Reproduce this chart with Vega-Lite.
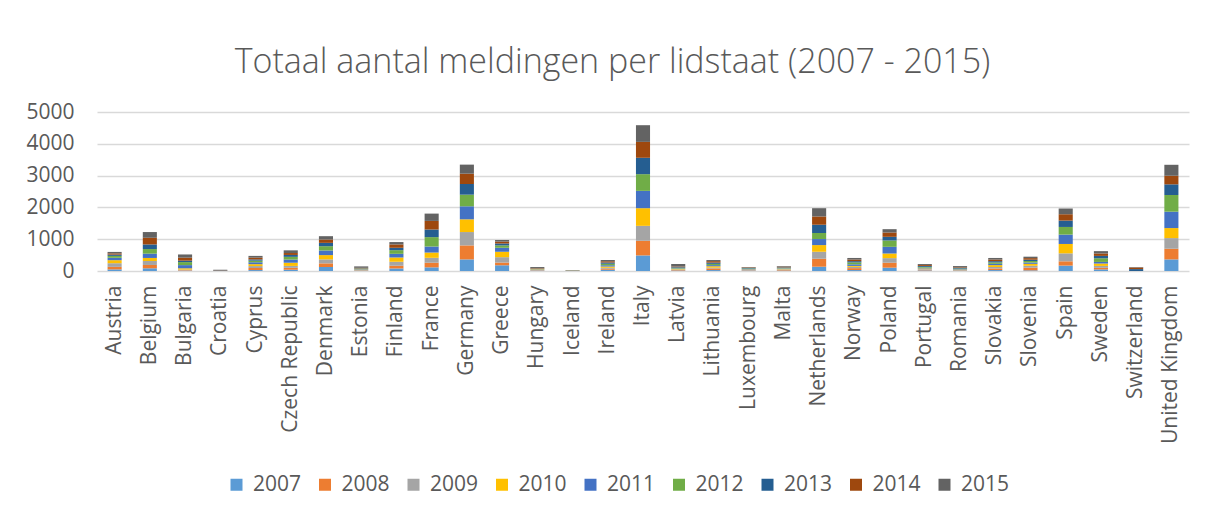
{
  "$schema": "https://vega.github.io/schema/vega-lite/v6.json",
  "width": 1092,
  "height": 159,
  "autosize": {"type": "none"},
  "padding": {"left": 97, "top": 112, "right": 19, "bottom": 247},
  "background": "#ffffff",
  "title": {
    "text": "Totaal aantal meldingen per lidstaat (2007 - 2015)",
    "font": "Open Sans",
    "fontSize": 34,
    "fontWeight": 300,
    "color": "#595959",
    "anchor": "middle",
    "frame": "bounds",
    "offset": 21,
    "dx": 5
  },
  "config": {
    "view": {"stroke": null},
    "font": "Open Sans"
  },
  "data": {
    "values": [
      {"country": "Austria", "year": "2007", "n": 50}, {"country": "Austria", "year": "2008", "n": 80}, {"country": "Austria", "year": "2009", "n": 115}, {"country": "Austria", "year": "2010", "n": 95}, {"country": "Austria", "year": "2011", "n": 75}, {"country": "Austria", "year": "2012", "n": 60}, {"country": "Austria", "year": "2013", "n": 40}, {"country": "Austria", "year": "2014", "n": 40}, {"country": "Austria", "year": "2015", "n": 45},
      {"country": "Belgium", "year": "2007", "n": 85}, {"country": "Belgium", "year": "2008", "n": 105}, {"country": "Belgium", "year": "2009", "n": 125}, {"country": "Belgium", "year": "2010", "n": 95}, {"country": "Belgium", "year": "2011", "n": 135}, {"country": "Belgium", "year": "2012", "n": 145}, {"country": "Belgium", "year": "2013", "n": 145}, {"country": "Belgium", "year": "2014", "n": 210}, {"country": "Belgium", "year": "2015", "n": 180},
      {"country": "Bulgaria", "year": "2007", "n": 10}, {"country": "Bulgaria", "year": "2008", "n": 15}, {"country": "Bulgaria", "year": "2009", "n": 20}, {"country": "Bulgaria", "year": "2010", "n": 40}, {"country": "Bulgaria", "year": "2011", "n": 100}, {"country": "Bulgaria", "year": "2012", "n": 95}, {"country": "Bulgaria", "year": "2013", "n": 45}, {"country": "Bulgaria", "year": "2014", "n": 95}, {"country": "Bulgaria", "year": "2015", "n": 100},
      {"country": "Croatia", "year": "2007", "n": 0}, {"country": "Croatia", "year": "2008", "n": 0}, {"country": "Croatia", "year": "2009", "n": 0}, {"country": "Croatia", "year": "2010", "n": 0}, {"country": "Croatia", "year": "2011", "n": 0}, {"country": "Croatia", "year": "2012", "n": 0}, {"country": "Croatia", "year": "2013", "n": 5}, {"country": "Croatia", "year": "2014", "n": 10}, {"country": "Croatia", "year": "2015", "n": 25},
      {"country": "Cyprus", "year": "2007", "n": 30}, {"country": "Cyprus", "year": "2008", "n": 65}, {"country": "Cyprus", "year": "2009", "n": 60}, {"country": "Cyprus", "year": "2010", "n": 60}, {"country": "Cyprus", "year": "2011", "n": 60}, {"country": "Cyprus", "year": "2012", "n": 50}, {"country": "Cyprus", "year": "2013", "n": 40}, {"country": "Cyprus", "year": "2014", "n": 55}, {"country": "Cyprus", "year": "2015", "n": 55},
      {"country": "Czech Republic", "year": "2007", "n": 40}, {"country": "Czech Republic", "year": "2008", "n": 60}, {"country": "Czech Republic", "year": "2009", "n": 60}, {"country": "Czech Republic", "year": "2010", "n": 100}, {"country": "Czech Republic", "year": "2011", "n": 100}, {"country": "Czech Republic", "year": "2012", "n": 85}, {"country": "Czech Republic", "year": "2013", "n": 60}, {"country": "Czech Republic", "year": "2014", "n": 60}, {"country": "Czech Republic", "year": "2015", "n": 85},
      {"country": "Denmark", "year": "2007", "n": 125}, {"country": "Denmark", "year": "2008", "n": 115}, {"country": "Denmark", "year": "2009", "n": 125}, {"country": "Denmark", "year": "2010", "n": 135}, {"country": "Denmark", "year": "2011", "n": 145}, {"country": "Denmark", "year": "2012", "n": 135}, {"country": "Denmark", "year": "2013", "n": 105}, {"country": "Denmark", "year": "2014", "n": 105}, {"country": "Denmark", "year": "2015", "n": 105},
      {"country": "Estonia", "year": "2007", "n": 10}, {"country": "Estonia", "year": "2008", "n": 10}, {"country": "Estonia", "year": "2009", "n": 10}, {"country": "Estonia", "year": "2010", "n": 15}, {"country": "Estonia", "year": "2011", "n": 15}, {"country": "Estonia", "year": "2012", "n": 15}, {"country": "Estonia", "year": "2013", "n": 10}, {"country": "Estonia", "year": "2014", "n": 15}, {"country": "Estonia", "year": "2015", "n": 45},
      {"country": "Finland", "year": "2007", "n": 80}, {"country": "Finland", "year": "2008", "n": 85}, {"country": "Finland", "year": "2009", "n": 125}, {"country": "Finland", "year": "2010", "n": 135}, {"country": "Finland", "year": "2011", "n": 115}, {"country": "Finland", "year": "2012", "n": 115}, {"country": "Finland", "year": "2013", "n": 75}, {"country": "Finland", "year": "2014", "n": 105}, {"country": "Finland", "year": "2015", "n": 75},
      {"country": "France", "year": "2007", "n": 115}, {"country": "France", "year": "2008", "n": 145}, {"country": "France", "year": "2009", "n": 155}, {"country": "France", "year": "2010", "n": 165}, {"country": "France", "year": "2011", "n": 190}, {"country": "France", "year": "2012", "n": 295}, {"country": "France", "year": "2013", "n": 240}, {"country": "France", "year": "2014", "n": 270}, {"country": "France", "year": "2015", "n": 230},
      {"country": "Germany", "year": "2007", "n": 365}, {"country": "Germany", "year": "2008", "n": 440}, {"country": "Germany", "year": "2009", "n": 420}, {"country": "Germany", "year": "2010", "n": 400}, {"country": "Germany", "year": "2011", "n": 410}, {"country": "Germany", "year": "2012", "n": 365}, {"country": "Germany", "year": "2013", "n": 335}, {"country": "Germany", "year": "2014", "n": 325}, {"country": "Germany", "year": "2015", "n": 285},
      {"country": "Greece", "year": "2007", "n": 180}, {"country": "Greece", "year": "2008", "n": 85}, {"country": "Greece", "year": "2009", "n": 170}, {"country": "Greece", "year": "2010", "n": 170}, {"country": "Greece", "year": "2011", "n": 125}, {"country": "Greece", "year": "2012", "n": 75}, {"country": "Greece", "year": "2013", "n": 60}, {"country": "Greece", "year": "2014", "n": 60}, {"country": "Greece", "year": "2015", "n": 50},
      {"country": "Hungary", "year": "2007", "n": 10}, {"country": "Hungary", "year": "2008", "n": 10}, {"country": "Hungary", "year": "2009", "n": 15}, {"country": "Hungary", "year": "2010", "n": 15}, {"country": "Hungary", "year": "2011", "n": 10}, {"country": "Hungary", "year": "2012", "n": 10}, {"country": "Hungary", "year": "2013", "n": 10}, {"country": "Hungary", "year": "2014", "n": 15}, {"country": "Hungary", "year": "2015", "n": 30},
      {"country": "Iceland", "year": "2007", "n": 2}, {"country": "Iceland", "year": "2008", "n": 3}, {"country": "Iceland", "year": "2009", "n": 3}, {"country": "Iceland", "year": "2010", "n": 3}, {"country": "Iceland", "year": "2011", "n": 4}, {"country": "Iceland", "year": "2012", "n": 4}, {"country": "Iceland", "year": "2013", "n": 4}, {"country": "Iceland", "year": "2014", "n": 4}, {"country": "Iceland", "year": "2015", "n": 3},
      {"country": "Ireland", "year": "2007", "n": 40}, {"country": "Ireland", "year": "2008", "n": 30}, {"country": "Ireland", "year": "2009", "n": 30}, {"country": "Ireland", "year": "2010", "n": 40}, {"country": "Ireland", "year": "2011", "n": 40}, {"country": "Ireland", "year": "2012", "n": 45}, {"country": "Ireland", "year": "2013", "n": 40}, {"country": "Ireland", "year": "2014", "n": 40}, {"country": "Ireland", "year": "2015", "n": 40},
      {"country": "Italy", "year": "2007", "n": 490}, {"country": "Italy", "year": "2008", "n": 460}, {"country": "Italy", "year": "2009", "n": 470}, {"country": "Italy", "year": "2010", "n": 555}, {"country": "Italy", "year": "2011", "n": 545}, {"country": "Italy", "year": "2012", "n": 525}, {"country": "Italy", "year": "2013", "n": 515}, {"country": "Italy", "year": "2014", "n": 500}, {"country": "Italy", "year": "2015", "n": 525},
      {"country": "Latvia", "year": "2007", "n": 15}, {"country": "Latvia", "year": "2008", "n": 15}, {"country": "Latvia", "year": "2009", "n": 20}, {"country": "Latvia", "year": "2010", "n": 15}, {"country": "Latvia", "year": "2011", "n": 15}, {"country": "Latvia", "year": "2012", "n": 20}, {"country": "Latvia", "year": "2013", "n": 20}, {"country": "Latvia", "year": "2014", "n": 20}, {"country": "Latvia", "year": "2015", "n": 80},
      {"country": "Lithuania", "year": "2007", "n": 30}, {"country": "Lithuania", "year": "2008", "n": 50}, {"country": "Lithuania", "year": "2009", "n": 25}, {"country": "Lithuania", "year": "2010", "n": 45}, {"country": "Lithuania", "year": "2011", "n": 35}, {"country": "Lithuania", "year": "2012", "n": 40}, {"country": "Lithuania", "year": "2013", "n": 40}, {"country": "Lithuania", "year": "2014", "n": 45}, {"country": "Lithuania", "year": "2015", "n": 35},
      {"country": "Luxembourg", "year": "2007", "n": 10}, {"country": "Luxembourg", "year": "2008", "n": 10}, {"country": "Luxembourg", "year": "2009", "n": 15}, {"country": "Luxembourg", "year": "2010", "n": 15}, {"country": "Luxembourg", "year": "2011", "n": 15}, {"country": "Luxembourg", "year": "2012", "n": 15}, {"country": "Luxembourg", "year": "2013", "n": 15}, {"country": "Luxembourg", "year": "2014", "n": 15}, {"country": "Luxembourg", "year": "2015", "n": 15},
      {"country": "Malta", "year": "2007", "n": 15}, {"country": "Malta", "year": "2008", "n": 20}, {"country": "Malta", "year": "2009", "n": 20}, {"country": "Malta", "year": "2010", "n": 15}, {"country": "Malta", "year": "2011", "n": 15}, {"country": "Malta", "year": "2012", "n": 15}, {"country": "Malta", "year": "2013", "n": 15}, {"country": "Malta", "year": "2014", "n": 20}, {"country": "Malta", "year": "2015", "n": 20},
      {"country": "Netherlands", "year": "2007", "n": 135}, {"country": "Netherlands", "year": "2008", "n": 250}, {"country": "Netherlands", "year": "2009", "n": 220}, {"country": "Netherlands", "year": "2010", "n": 210}, {"country": "Netherlands", "year": "2011", "n": 190}, {"country": "Netherlands", "year": "2012", "n": 190}, {"country": "Netherlands", "year": "2013", "n": 260}, {"country": "Netherlands", "year": "2014", "n": 260}, {"country": "Netherlands", "year": "2015", "n": 260},
      {"country": "Norway", "year": "2007", "n": 30}, {"country": "Norway", "year": "2008", "n": 60}, {"country": "Norway", "year": "2009", "n": 40}, {"country": "Norway", "year": "2010", "n": 30}, {"country": "Norway", "year": "2011", "n": 50}, {"country": "Norway", "year": "2012", "n": 60}, {"country": "Norway", "year": "2013", "n": 40}, {"country": "Norway", "year": "2014", "n": 50}, {"country": "Norway", "year": "2015", "n": 50},
      {"country": "Poland", "year": "2007", "n": 105}, {"country": "Poland", "year": "2008", "n": 155}, {"country": "Poland", "year": "2009", "n": 145}, {"country": "Poland", "year": "2010", "n": 145}, {"country": "Poland", "year": "2011", "n": 210}, {"country": "Poland", "year": "2012", "n": 200}, {"country": "Poland", "year": "2013", "n": 115}, {"country": "Poland", "year": "2014", "n": 135}, {"country": "Poland", "year": "2015", "n": 105},
      {"country": "Portugal", "year": "2007", "n": 20}, {"country": "Portugal", "year": "2008", "n": 20}, {"country": "Portugal", "year": "2009", "n": 20}, {"country": "Portugal", "year": "2010", "n": 20}, {"country": "Portugal", "year": "2011", "n": 25}, {"country": "Portugal", "year": "2012", "n": 25}, {"country": "Portugal", "year": "2013", "n": 30}, {"country": "Portugal", "year": "2014", "n": 30}, {"country": "Portugal", "year": "2015", "n": 30},
      {"country": "Romania", "year": "2007", "n": 10}, {"country": "Romania", "year": "2008", "n": 10}, {"country": "Romania", "year": "2009", "n": 10}, {"country": "Romania", "year": "2010", "n": 15}, {"country": "Romania", "year": "2011", "n": 15}, {"country": "Romania", "year": "2012", "n": 15}, {"country": "Romania", "year": "2013", "n": 20}, {"country": "Romania", "year": "2014", "n": 20}, {"country": "Romania", "year": "2015", "n": 40},
      {"country": "Slovakia", "year": "2007", "n": 30}, {"country": "Slovakia", "year": "2008", "n": 50}, {"country": "Slovakia", "year": "2009", "n": 45}, {"country": "Slovakia", "year": "2010", "n": 60}, {"country": "Slovakia", "year": "2011", "n": 40}, {"country": "Slovakia", "year": "2012", "n": 45}, {"country": "Slovakia", "year": "2013", "n": 40}, {"country": "Slovakia", "year": "2014", "n": 50}, {"country": "Slovakia", "year": "2015", "n": 50},
      {"country": "Slovenia", "year": "2007", "n": 20}, {"country": "Slovenia", "year": "2008", "n": 85}, {"country": "Slovenia", "year": "2009", "n": 60}, {"country": "Slovenia", "year": "2010", "n": 60}, {"country": "Slovenia", "year": "2011", "n": 40}, {"country": "Slovenia", "year": "2012", "n": 50}, {"country": "Slovenia", "year": "2013", "n": 40}, {"country": "Slovenia", "year": "2014", "n": 50}, {"country": "Slovenia", "year": "2015", "n": 45},
      {"country": "Spain", "year": "2007", "n": 170}, {"country": "Spain", "year": "2008", "n": 135}, {"country": "Spain", "year": "2009", "n": 250}, {"country": "Spain", "year": "2010", "n": 295}, {"country": "Spain", "year": "2011", "n": 295}, {"country": "Spain", "year": "2012", "n": 240}, {"country": "Spain", "year": "2013", "n": 200}, {"country": "Spain", "year": "2014", "n": 200}, {"country": "Spain", "year": "2015", "n": 180},
      {"country": "Sweden", "year": "2007", "n": 50}, {"country": "Sweden", "year": "2008", "n": 50}, {"country": "Sweden", "year": "2009", "n": 60}, {"country": "Sweden", "year": "2010", "n": 75}, {"country": "Sweden", "year": "2011", "n": 50}, {"country": "Sweden", "year": "2012", "n": 115}, {"country": "Sweden", "year": "2013", "n": 75}, {"country": "Sweden", "year": "2014", "n": 75}, {"country": "Sweden", "year": "2015", "n": 75},
      {"country": "Switzerland", "year": "2007", "n": 0}, {"country": "Switzerland", "year": "2008", "n": 0}, {"country": "Switzerland", "year": "2009", "n": 0}, {"country": "Switzerland", "year": "2010", "n": 0}, {"country": "Switzerland", "year": "2011", "n": 0}, {"country": "Switzerland", "year": "2012", "n": 0}, {"country": "Switzerland", "year": "2013", "n": 60}, {"country": "Switzerland", "year": "2014", "n": 50}, {"country": "Switzerland", "year": "2015", "n": 15},
      {"country": "United Kingdom", "year": "2007", "n": 365}, {"country": "United Kingdom", "year": "2008", "n": 335}, {"country": "United Kingdom", "year": "2009", "n": 335}, {"country": "United Kingdom", "year": "2010", "n": 315}, {"country": "United Kingdom", "year": "2011", "n": 515}, {"country": "United Kingdom", "year": "2012", "n": 525}, {"country": "United Kingdom", "year": "2013", "n": 335}, {"country": "United Kingdom", "year": "2014", "n": 270}, {"country": "United Kingdom", "year": "2015", "n": 345}
    ]
  },
  "mark": {"type": "bar"},
  "encoding": {
    "x": {
      "field": "country",
      "type": "nominal",
      "sort": null,
      "scale": {"paddingInner": 0.6, "paddingOuter": 0.3},
      "axis": {
        "title": null,
        "labelAngle": -90,
        "labelAlign": "right",
        "labelBaseline": "middle",
        "labelFont": "Open Sans",
        "labelFontSize": 21,
        "labelColor": "#595959",
        "labelPadding": 14,
        "ticks": false,
        "domain": false,
        "labelOverlap": false
      }
    },
    "y": {
      "field": "n",
      "type": "quantitative",
      "stack": "zero",
      "scale": {"domain": [0, 5000], "nice": false},
      "axis": {
        "title": null,
        "values": [0, 1000, 2000, 3000, 4000, 5000],
        "labelFont": "Open Sans",
        "labelFontSize": 21,
        "labelColor": "#595959",
        "labelPadding": 23,
        "ticks": false,
        "domain": false,
        "grid": true,
        "gridColor": "#d9d9d9",
        "gridWidth": 1.5,
        "format": "d"
      }
    },
    "color": {
      "field": "year",
      "type": "nominal",
      "scale": {
        "domain": ["2007", "2008", "2009", "2010", "2011", "2012", "2013", "2014", "2015"],
        "range": ["#5B9BD5", "#ED7D31", "#A5A5A5", "#FFC000", "#4472C4", "#70AD47", "#255E91", "#9E480E", "#636363"]
      },
      "legend": {
        "title": null,
        "orient": "none",
        "legendX": 129,
        "legendY": 362,
        "direction": "horizontal",
        "symbolType": "square",
        "symbolSize": 144,
        "symbolStrokeWidth": 0,
        "labelFont": "Open Sans",
        "labelFontSize": 21,
        "labelColor": "#595959",
        "labelOffset": 6,
        "columnPadding": 12.5
      }
    },
    "order": {"field": "year", "sort": "ascending"}
  }
}
